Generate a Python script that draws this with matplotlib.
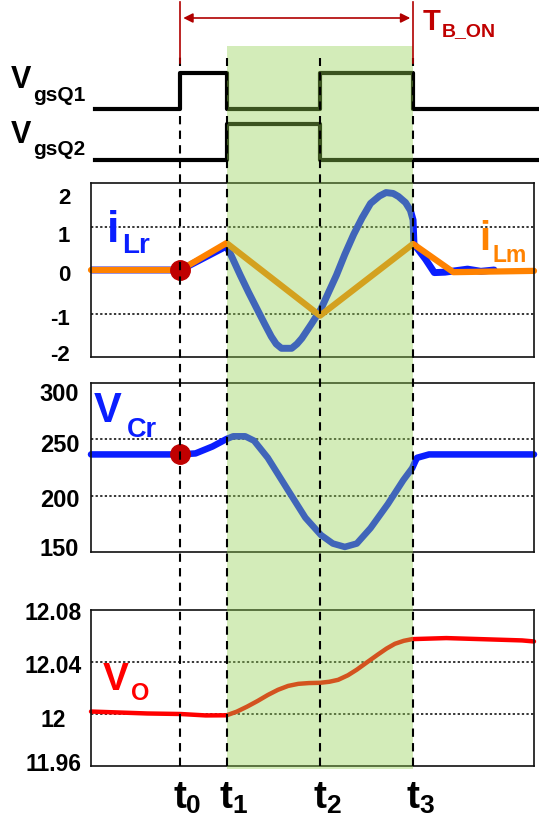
import matplotlib
matplotlib.use('Agg')
import matplotlib.pyplot as plt
import matplotlib.transforms as mtransforms
from matplotlib.patches import Rectangle, FancyArrowPatch
from matplotlib.lines import Line2D

plt.rcParams['font.family'] = ['Liberation Sans', 'DejaVu Sans']
plt.rcParams['font.weight'] = 'bold'

W, H = 539, 820

# switching instants (time axis normalised to 0..100)
t_events = [20.2, 30.6, 51.7, 72.7]
t_names = ['0', '1', '2', '3']

# gate drive signals (steps)
gate_t = [1.0, 20.2, 30.6, 51.7, 72.7, 101.0]
vgs_q1 = [0, 1, 0, 1, 0, 0]
vgs_q2 = [0, 0, 1, 0, 0, 0]

# magnetising current iLm
ilm_t = [0, 20.2, 30.6, 51.7, 72.7, 81.8, 100]
ilm = [0, 0, 0.62, -1.05, 0.6, -0.05, -0.02]

# resonant current iLr
ilr_t = [0, 20.2, 30.6, 31.8, 33.7, 35.6, 37.5, 39.2, 40.7, 41.8, 43.0, 45.3, 46.5, 47.6,
         49.7, 51.9, 53.6, 55.4, 57.3, 59.3, 61.2, 63.1, 65.1, 66.6, 68.2, 69.4, 71.0, 72.1,
         72.7, 72.9, 75.5, 77.5, 79.9, 85.0, 88.0, 91.0]
ilr = [0, 0, 0.55, 0.3, -0.12, -0.52, -0.90, -1.24, -1.53, -1.70, -1.80, -1.80, -1.70, -1.57,
       -1.25, -0.90, -0.52, -0.12, 0.36, 0.82, 1.20, 1.53, 1.70, 1.78, 1.76, 1.69, 1.55, 1.37,
       1.15, 0.6, 0.25, -0.06, -0.05, 0.02, -0.03, 0]

# resonant capacitor voltage VCr
vcr_t = [0, 20.2, 23.6, 27.4, 30.6, 32.1, 34.8, 36.8, 39.9, 44.5, 48.4, 51.9,
         54.6, 57.3, 60.0, 63.1, 67.0, 70.5, 72.5, 73.2, 73.6, 76.3, 100]
vcr = [236.6, 236.6, 237.5, 243.6, 250.3, 252.7, 252.7, 248.8, 233.6, 204.7, 180.4, 165.1,
       157.5, 154.5, 157.5, 171.2, 192.5, 213.8, 224.4, 230.5, 233.6, 236.6, 236.6]

# output voltage Vo
vo_t = [0, 12.7, 20.2, 25.9, 30.6, 32.9, 35.2, 37.6, 39.9, 42.2, 44.5, 46.8, 49.2, 51.7,
        53.8, 55.8, 58.0, 60.0, 62.4, 64.7, 66.7, 68.6, 70.6, 72.5, 80.2, 87.9, 97.3, 100]
vo = [12.0019, 12.0004, 12.0, 11.9989, 11.999, 12.0018, 12.0056, 12.0100, 12.0146, 12.0186,
      12.0216, 12.0232, 12.0238, 12.0240, 12.0248, 12.0263, 12.0298, 12.0341, 12.0400, 12.0456,
      12.0503, 12.0540, 12.0563, 12.0576, 12.0584, 12.0576, 12.0566, 12.0558]

i_ticks = [-2, -1, 0, 1, 2]
i_grid = [-1, 1]
v_ticks = [150, 200, 250, 300]
v_grid = [200, 250]
o_ticks = [11.96, 12, 12.04, 12.08]
o_ticklabels = ['11.96', '12', '12.04', '12.08']
o_grid = [12, 12.04]

BLUE = '#0A1EFF'
ORANGE = '#FF8200'
RED = '#FF0000'
DARKRED = '#C00000'


def fy(p):
    return 1 - p / H


def box(top, bottom):
    return [91 / W, fy(bottom), 443 / W, (bottom - top) / H]


fig = plt.figure(figsize=(W / 100, H / 100), dpi=100)

ax_g = fig.add_axes(box(47, 170))
ax_i = fig.add_axes(box(184, 358))
ax_v = fig.add_axes(box(384, 553))
ax_o = fig.add_axes(box(611, 767))

# gate signals
ax_g.plot(gate_t, [v + 1.44 for v in vgs_q1], drawstyle='steps-post', color='black', lw=3, clip_on=False)
ax_g.plot(gate_t, vgs_q2, drawstyle='steps-post', color='black', lw=3, clip_on=False)
ax_g.set_xlim(0, 100)
ax_g.set_ylim(-0.25, 3.2)
ax_g.axis('off')

# currents
ax_i.plot(ilr_t, ilr, color=BLUE, lw=5, solid_capstyle='round', solid_joinstyle='round')
ax_i.plot(ilm_t, ilm, color=ORANGE, lw=4.5, solid_capstyle='round', solid_joinstyle='round', clip_on=False)
ax_i.plot([t_events[0]], [0], 'o', color=DARKRED, ms=14, zorder=5)
ax_i.set_ylim(-2, 2)
ax_i.set_yticks(i_ticks, [str(v) for v in i_ticks])
for g in i_grid:
    ax_i.axhline(g, color='black', lw=1.1, ls=(0, (1.5, 1.5)), zorder=1)

# capacitor voltage
ax_v.plot(vcr_t, vcr, color=BLUE, lw=4.7, solid_capstyle='round', solid_joinstyle='round', clip_on=False)
ax_v.plot([t_events[0]], [vcr[1]], 'o', color=DARKRED, ms=14, zorder=5)
ax_v.set_ylim(150, 300)
ax_v.set_yticks(v_ticks, [str(v) for v in v_ticks])
for g in v_grid:
    ax_v.axhline(g, color='black', lw=1.1, ls=(0, (1.5, 1.5)), zorder=1)

# output voltage
ax_o.plot(vo_t, vo, color=RED, lw=3.2, solid_capstyle='round', solid_joinstyle='round', clip_on=False)
ax_o.set_ylim(11.96, 12.08)
ax_o.set_yticks(o_ticks, o_ticklabels)
for g in o_grid:
    ax_o.axhline(g, color='black', lw=1.1, ls=(0, (1.5, 1.5)), zorder=1)

# tick label nudges (px, positive = down), as in the original drawing
nudges = {ax_i: [-5, 3, 2, 7, 12], ax_v: [-6, 1, 3, 8], ax_o: [-5, 3, 1, 0]}
for ax, fs, pad, ha in [(ax_i, 16, 15, 'right'), (ax_v, 17, 8.5, 'right'), (ax_o, 16.5, 27, 'center')]:
    ax.set_xlim(0, 100)
    ax.set_xticks([])
    ax.tick_params(axis='y', length=0, labelsize=fs, pad=pad)
    for lab, dy in zip(ax.get_yticklabels(), nudges[ax]):
        lab.set_fontweight('bold')
        lab.set_horizontalalignment(ha)
        lab.set_transform(lab.get_transform() + mtransforms.ScaledTranslation(0, -dy / 100, fig.dpi_scale_trans))
    for part in ['bottom', 'left', 'right', 'top']:
        ax.spines[part].set_linewidth(1.2)
        ax.spines[part].set_color('#111111')

trans = mtransforms.blended_transform_factory(ax_o.transData, fig.transFigure)

# shaded interval t1..t3
fig.add_artist(Rectangle((t_events[1], fy(770)), t_events[3] - t_events[1], fy(47) - fy(770),
                         transform=trans, facecolor='#92D050', alpha=0.4, edgecolor='none', zorder=3))

# dashed time markers
for t, y0 in zip(t_events, [55, 59, 59, 59]):
    fig.add_artist(Line2D([t, t], [fy(767), fy(y0)], transform=trans, color='black',
                          lw=1.5, ls=(0, (4, 3)), zorder=4))

# T_B_ON marker
for t in [t_events[0], t_events[3]]:
    fig.add_artist(Line2D([t, t], [fy(3), fy(64)], transform=trans, color='#B00000', lw=1.2, zorder=4))
fig.add_artist(FancyArrowPatch((t_events[0], fy(19)), (t_events[3], fy(19)), transform=trans,
                               arrowstyle='<|-|>', mutation_scale=14, color='#B00000', lw=1.2, zorder=4))


def lbl(x, y, s, fs, color):
    fig.text(x / W, fy(y), s, fontsize=fs, color=color, fontweight='bold', ha='left', va='baseline')


lbl(423, 30, 'T', 21, DARKRED)
lbl(442, 36, 'B_ON', 14, DARKRED)
lbl(11, 88, 'V', 22, 'black')
lbl(33, 101, 'gsQ1', 15, 'black')
lbl(11, 143, 'V', 22, 'black')
lbl(33, 155, 'gsQ2', 15, 'black')
lbl(107, 242, 'i', 32, BLUE)
lbl(122, 253, 'Lr', 20, BLUE)
lbl(479, 250, 'i', 29, ORANGE)
lbl(492, 262, 'Lm', 16.5, ORANGE)
lbl(94, 422, 'V', 30, BLUE)
lbl(127, 437, 'Cr', 19.5, BLUE)
lbl(103, 690, 'V', 28, RED)
lbl(131, 700, 'O', 17, RED)

# time labels under the plot
for t, name in zip(t_events, t_names):
    tt = mtransforms.offset_copy(trans, fig=fig, x=6, y=0, units='dots')
    fig.text(t, fy(808), 't', transform=tt, fontsize=28, fontweight='bold', ha='right', va='baseline')
    fig.text(t, fy(813), name, transform=tt, fontsize=19, fontweight='bold', ha='left', va='baseline')

fig.savefig('out.png', dpi=100)
